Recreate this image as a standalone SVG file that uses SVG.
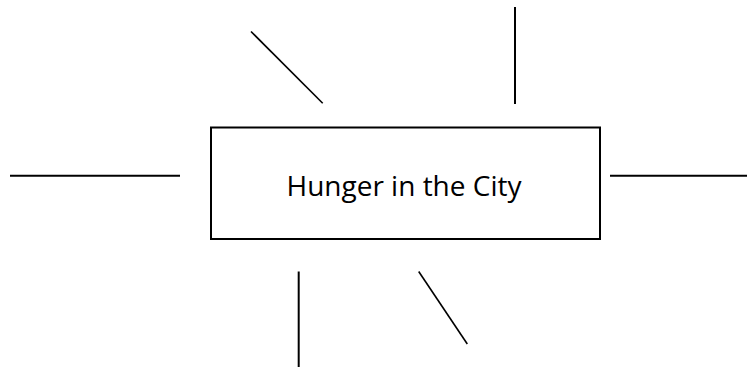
<svg xmlns="http://www.w3.org/2000/svg" width="747" height="367" viewBox="0 0 747 367">
<style>
.box{fill:#fff;stroke:#000;stroke-width:2}
.lbl{font-family:"Open Sans","Noto Sans","Liberation Sans",sans-serif;font-size:28px;fill:#000}
.ln{stroke:#000;stroke-width:2;fill:none}
.dg{stroke:#000;stroke-width:1.6;fill:none}
</style>
<g id="node-hunger">
<rect class="box" x="211" y="127.5" width="389" height="111.5"/>
<text class="lbl" x="404" y="196" text-anchor="middle">Hunger in the City</text>
</g>
<g id="connectors">
<line class="dg" x1="251" y1="31.5" x2="322.7" y2="103.3"/>
<line class="ln" x1="515" y1="7" x2="515" y2="104"/>
<line class="ln" x1="10" y1="175.7" x2="180" y2="175.7"/>
<line class="ln" x1="610" y1="175.7" x2="747" y2="175.7"/>
<line class="ln" x1="298.7" y1="271.5" x2="298.7" y2="367"/>
<line class="dg" x1="418.7" y1="271.5" x2="467.3" y2="344"/>
</g>
</svg>
